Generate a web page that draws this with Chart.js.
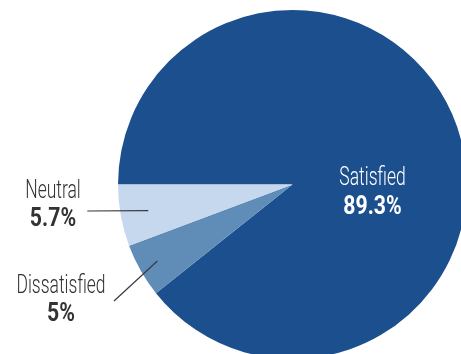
<!DOCTYPE html>
<html>
<head>
<meta charset="utf-8">
<script src="https://cdn.jsdelivr.net/npm/chart.js@4"></script>
<style>
  html, body { margin: 0; padding: 0; background: #fff; overflow: hidden; }
  #wrap { position: relative; width: 461px; height: 354px; overflow: hidden; }
  canvas { position: absolute; left: 0; top: 0; }
</style>
</head>
<body>
<div id="wrap"><canvas id="pieChart1" width="470" height="370"></canvas></div>
<script>
// survey answers, clockwise from 9 o'clock
const categories = ['Satisfied', 'Dissatisfied', 'Neutral'];
const shares = [89.3, 5, 5.7];
const sliceColors = ['#1c4f8e', '#5f8db8', '#c6d8ed'];

// where each label sits, relative to the pie centre
const labelSpots = [
    { dx: 80, y1: 0.5, y2: 29, color: '#ffffff', line: null },
    { dx: -231.5, y1: 108, y2: 136, color: '#333333', line: { fx: -178.5, fy: 116.5, r: 0.89 } },
    { dx: -239.5, y1: 13.8, y2: 41.2, color: '#333333', line: { fx: -205.2, fy: 26.5, r: 0.84 } }
];

const FONT = 'Roboto, "Liberation Sans", sans-serif';

function drawNarrow(ctx, text, x, y, font, squeeze) {
    ctx.save();
    ctx.font = font;
    ctx.translate(x, y);
    ctx.scale(squeeze, 1);
    ctx.textAlign = 'center';
    ctx.textBaseline = 'alphabetic';
    ctx.fillText(text, 0, 0);
    ctx.restore();
}

const sliceLabels = {
    id: 'sliceLabels',
    afterDraw(chart) {
        const ctx = chart.ctx;
        const meta = chart.getDatasetMeta(0);
        meta.data.forEach(function (arc, i) {
            const spot = labelSpots[i];
            const cx = arc.x, cy = arc.y;
            if (spot.line) {
                const mid = (arc.startAngle + arc.endAngle) / 2;
                const r = arc.outerRadius * spot.line.r;
                ctx.save();
                ctx.strokeStyle = '#3a3a3a';
                ctx.lineWidth = 1.2;
                ctx.beginPath();
                ctx.moveTo(cx + spot.line.fx, cy + spot.line.fy);
                ctx.lineTo(cx + Math.cos(mid) * r, cy + Math.sin(mid) * r);
                ctx.stroke();
                ctx.restore();
            }
            ctx.fillStyle = spot.color;
            drawNarrow(ctx, categories[i], cx + spot.dx, cy + spot.y1, '300 25px ' + FONT, 0.7);
            drawNarrow(ctx, shares[i] + '%', cx + spot.dx, cy + spot.y2, 'bold 25px ' + FONT, 0.85);
        });
    }
};

let ctx = document.getElementById('pieChart1').getContext('2d');
let myChart = new Chart(ctx, {
    type: 'pie',
    data: {
        labels: categories,
        datasets: [{
            data: shares,
            backgroundColor: sliceColors,
            borderWidth: 0
        }]
    },
    options: {
        responsive: false,
        animation: false,
        rotation: -90,
        layout: { padding: { left: 118, top: 10, right: 3, bottom: 11 } },
        plugins: {
            legend: { display: false },
            tooltip: { enabled: false }
        }
    },
    plugins: [sliceLabels]
});
</script>
</body>
</html>
